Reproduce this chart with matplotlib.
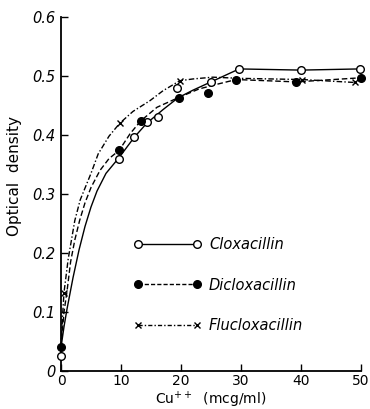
import matplotlib
matplotlib.use("Agg")
import matplotlib.pyplot as plt
from matplotlib.lines import Line2D

# ---- data ----
clox_x = [0, 9.7, 12.2, 14.3, 16.1, 19.3, 25.0, 29.7, 40.0, 49.8]
clox_y = [0.025, 0.360, 0.396, 0.422, 0.431, 0.479, 0.490, 0.512, 0.510, 0.512]

diclox_x = [0, 9.7, 13.3, 19.7, 24.5, 29.2, 39.2, 50.0]
diclox_y = [0.040, 0.374, 0.424, 0.463, 0.472, 0.494, 0.490, 0.497]

fluclox_x = [0.5, 9.8, 19.8, 40.2, 49.0]
fluclox_y = [0.133, 0.420, 0.492, 0.494, 0.489]

# hand-drawn fitted curves
clox_cx = [0, 0.5, 1, 2, 3, 4, 5, 6, 7.5, 9.7, 12.2, 14.3, 17, 19.5, 22, 25, 29.7, 40, 49.8]
clox_cy = [0.04, 0.075, 0.105, 0.158, 0.205, 0.245, 0.278, 0.305, 0.335, 0.362,
           0.396, 0.420, 0.443, 0.463, 0.476, 0.490, 0.512, 0.510, 0.512]

diclox_cx = [0, 0.5, 1, 1.6, 2.3, 3.1, 4, 5, 6.5, 8, 9.7, 11.5, 13.3, 16, 19.7, 23, 26, 29.2, 39.2, 50]
diclox_cy = [0.04, 0.10, 0.135, 0.185, 0.222, 0.255, 0.285, 0.311, 0.340, 0.360, 0.374,
             0.402, 0.424, 0.447, 0.464, 0.478, 0.486, 0.494, 0.490, 0.497]

fluclox_cx = [0, 0.3, 0.5, 1.2, 2.3, 3.2, 4.2, 5, 6.2, 8, 9.8, 12, 14.8, 17, 19.8, 22, 25.3, 30, 40.2, 49]
fluclox_cy = [0.04, 0.10, 0.133, 0.19, 0.255, 0.29, 0.315, 0.335, 0.368, 0.398, 0.420,
              0.440, 0.458, 0.475, 0.492, 0.495, 0.498, 0.496, 0.494, 0.489]

labels = ["Cloxacillin", "Dicloxacillin", "Flucloxacillin"]
xticks = [0, 10, 20, 30, 40, 50]
xticklabels = ["0", "10", "20", "30", "40", "50"]
yticks = [0, 0.1, 0.2, 0.3, 0.4, 0.5, 0.6]
yticklabels = ["0", "0.1", "0.2", "0.3", "0.4", "0.5", "0.6"]

plt.rcParams['font.family'] = ['DejaVu Sans']

fig = plt.figure(figsize=(3.70, 4.09), dpi=100)
ax = fig.add_axes([61/370, 1 - 371/409, 300/370, (371 - 17)/409])

k = 'black'
lw = 1.0
ms = 5.5

ax.plot(clox_cx, clox_cy, '-', color=k, lw=lw, clip_on=False)
ax.plot(diclox_cx, diclox_cy, '--', color=k, lw=lw, dashes=(4, 2), clip_on=False)
ax.plot(fluclox_cx, fluclox_cy, '-.', color=k, lw=lw, dashes=(4, 1.6, 1, 1.6), clip_on=False)

ax.plot(clox_x, clox_y, 'o', mfc='white', mec=k, mew=1.0, ms=ms, ls='none', clip_on=False, zorder=5)
ax.plot(diclox_x, diclox_y, 'o', mfc=k, mec=k, ms=ms, ls='none', clip_on=False, zorder=5)
ax.plot(fluclox_x, fluclox_y, 'x', color=k, mew=1.0, ms=4.0, ls='none', clip_on=False, zorder=5)

handles = [
    Line2D([], [], color=k, lw=lw, ls='-', marker='o', mfc='white', mec=k, ms=ms),
    Line2D([], [], color=k, lw=lw, ls='--', dashes=(3, 1.5), marker='o', mfc=k, mec=k, ms=ms),
    Line2D([], [], color=k, lw=lw, ls='-.', dashes=(3, 1.5, 1, 1.5), marker='x', mew=1.0, ms=4.0),
]
leg = ax.legend(handles, labels, loc='upper left', bbox_to_anchor=(134/370, 1 - 237/409),
                bbox_transform=fig.transFigure, frameon=False, numpoints=2,
                handlelength=4.6, handletextpad=0.55, labelspacing=1.75,
                borderpad=0, borderaxespad=0,
                prop={'style': 'italic', 'size': 10.5})

ax.set_xlim(0, 50)
ax.set_ylim(0, 0.6)
ax.set_xticks(xticks)
ax.set_xticklabels(xticklabels, fontsize=10)
ax.set_yticks(yticks)
ax.set_yticklabels(yticklabels, fontsize=10.5, style='italic')
ax.tick_params(axis='both', direction='in', length=5, width=1.0, pad=4)
ax.tick_params(axis='x', pad=2)
ax.spines['top'].set_visible(False)
ax.spines['right'].set_visible(False)
ax.spines['left'].set_linewidth(1.3)
ax.spines['bottom'].set_linewidth(1.3)

ax.set_xlabel("Cu$^{++}$  (mcg/ml)", fontsize=10)
ax.xaxis.set_label_coords(0.5, -0.053)
ax.set_ylabel("Optical  density", fontsize=11)
ax.yaxis.set_label_coords(-0.13, 0.55)

fig.savefig("out.png", dpi=100)
